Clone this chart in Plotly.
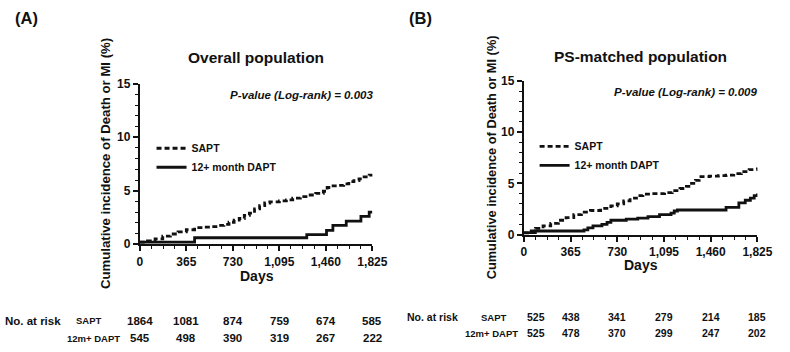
import plotly.graph_objects as go

# ---------------- data ----------------
tick_days = [0, 365, 730, 1095, 1460, 1825]
tick_text = ["0", "365", "730", "1,095", "1,460", "1,825"]

# Panel A: Overall population
a_sapt_days = [0, 60, 120, 180, 240, 300, 365, 430, 500, 560, 620, 660, 700, 740, 780, 820, 860, 900,
               940, 980, 1020, 1095, 1150, 1200, 1260, 1320, 1380, 1440, 1470, 1500, 1560, 1600, 1640,
               1680, 1720, 1760, 1800, 1825]
a_sapt_vals = [0.2, 0.3, 0.5, 0.75, 0.95, 1.15, 1.35, 1.55, 1.6, 1.65, 1.75, 1.85, 2.05, 2.25, 2.4, 2.7,
               2.9, 3.3, 3.6, 3.85, 3.95, 4.05, 4.15, 4.3, 4.45, 4.6, 4.75, 4.95, 5.3, 5.45, 5.5, 5.65,
               5.85, 5.95, 6.1, 6.3, 6.45, 6.55]
a_dapt_days = [0, 430, 1310, 1465, 1515, 1620, 1735, 1800, 1825]
a_dapt_vals = [0.2, 0.6, 0.9, 1.3, 1.75, 2.15, 2.6, 3.0, 3.0]

# Panel B: PS-matched population
b_sapt_days = [0, 30, 90, 150, 210, 270, 330, 390, 450, 520, 600, 680, 730, 780, 830, 880, 930, 1000,
               1060, 1100, 1160, 1220, 1270, 1310, 1340, 1370, 1450, 1520, 1580, 1640, 1700, 1760, 1825]
b_sapt_vals = [0.15, 0.35, 0.6, 0.85, 1.1, 1.4, 1.65, 1.95, 2.2, 2.35, 2.55, 2.8, 3.0, 3.3, 3.55, 3.8,
               3.95, 4.0, 4.0, 4.1, 4.3, 4.5, 4.7, 5.0, 5.3, 5.65, 5.7, 5.75, 5.8, 5.95, 6.15, 6.35, 6.55]
b_dapt_days = [0, 90, 470, 500, 540, 610, 650, 680, 800, 890, 970, 1060, 1150, 1175, 1200, 1580, 1680,
               1730, 1770, 1800, 1825]
b_dapt_vals = [0.2, 0.35, 0.45, 0.65, 0.85, 1.0, 1.2, 1.4, 1.5, 1.6, 1.75, 1.95, 2.1, 2.3, 2.4, 2.65,
               3.1, 3.35, 3.55, 3.8, 4.0]

# numbers at risk
a_risk_sapt = [1864, 1081, 874, 759, 674, 585]
a_risk_dapt = [545, 498, 390, 319, 267, 222]
b_risk_sapt = [525, 438, 341, 279, 214, 185]
b_risk_dapt = [525, 478, 370, 299, 247, 202]

series_names = ["SAPT", "12+ month DAPT"]
risk_labels = ["SAPT", "12m+ DAPT"]

# ---------------- figure ----------------
FONT = "Liberation Sans, Arial, sans-serif"
W, H = 790, 352
INK = "#111111"

fig = go.Figure()

line_w = 2.8
dash = "5px,3px"
fig.add_trace(go.Scatter(x=a_sapt_days, y=a_sapt_vals, mode="lines", line_shape="hv",
                         line=dict(color=INK, width=line_w, dash=dash),
                         name=series_names[0], xaxis="x", yaxis="y", legend="legend"))
fig.add_trace(go.Scatter(x=a_dapt_days, y=a_dapt_vals, mode="lines", line_shape="hv",
                         line=dict(color=INK, width=line_w),
                         name=series_names[1], xaxis="x", yaxis="y", legend="legend"))
fig.add_trace(go.Scatter(x=b_sapt_days, y=b_sapt_vals, mode="lines", line_shape="hv",
                         line=dict(color=INK, width=line_w, dash=dash),
                         name=series_names[0], xaxis="x2", yaxis="y2", legend="legend2"))
fig.add_trace(go.Scatter(x=b_dapt_days, y=b_dapt_vals, mode="lines", line_shape="hv",
                         line=dict(color=INK, width=line_w),
                         name=series_names[1], xaxis="x2", yaxis="y2", legend="legend2"))

def px_x(p):
    return p / W

def px_y(p):
    return 1 - p / H

tickfont = dict(family=FONT, size=12, color=INK, weight="bold")

def xaxis(domain, anchor):
    return dict(domain=domain, anchor=anchor, range=[0, 1825], tickmode="array",
                tickvals=tick_days, ticktext=tick_text, showline=True, linecolor=INK,
                linewidth=2, ticks="outside", ticklen=5, tickwidth=1.8, tickcolor=INK,
                showgrid=False, zeroline=False, tickfont=tickfont,
                minor=dict(tickmode="linear", tick0=0, dtick=91.25, ticks="outside",
                           ticklen=3, tickwidth=1.4, tickcolor=INK, showgrid=False))

def yaxis(domain, anchor):
    return dict(domain=domain, anchor=anchor, range=[0, 15], tickmode="array",
                tickvals=[0, 5, 10, 15], showline=True, linecolor=INK, linewidth=2,
                ticks="outside", ticklen=5, tickwidth=1.8, tickcolor=INK, showgrid=False,
                zeroline=False, tickfont=tickfont,
                minor=dict(tickmode="linear", tick0=0, dtick=1, ticks="outside", ticklen=3,
                           tickwidth=1.4, tickcolor=INK, showgrid=False))

legfont = dict(family=FONT, size=10.5, weight="bold", color=INK)
fig.update_layout(
    width=W, height=H, margin=dict(l=0, r=0, t=0, b=0),
    paper_bgcolor="white", plot_bgcolor="white",
    font=dict(family=FONT, color=INK),
    xaxis=xaxis([px_x(140), px_x(378)], "y"),
    yaxis=yaxis([px_y(247), px_y(80)], "x"),
    xaxis2=xaxis([px_x(533), px_x(772)], "y2"),
    yaxis2=yaxis([px_y(237), px_y(77)], "x2"),
    legend=dict(x=px_x(152), y=px_y(132), xanchor="left", yanchor="top",
                bgcolor="rgba(0,0,0,0)", font=legfont, itemwidth=30, tracegroupgap=0),
    legend2=dict(x=px_x(544), y=px_y(130), xanchor="left", yanchor="top",
                 bgcolor="rgba(0,0,0,0)", font=legfont, itemwidth=30, tracegroupgap=0),
    showlegend=True,
)

ann = []
def text(x, y, s, size, xanchor="center", bold=True, italic=False, angle=0, xref="paper", xshift=0):
    f = dict(family=FONT, size=size, color=INK)
    if bold:
        f["weight"] = "bold"
    if italic:
        f["style"] = "italic"
    ann.append(dict(x=x, y=y, xref=xref, yref="paper", text=s, showarrow=False, font=f,
                    xanchor=xanchor, yanchor="middle", textangle=angle, xshift=xshift))

# panel labels
text(px_x(10), px_y(11), "(A)", 16.5, xanchor="left")
text(px_x(413), px_y(11), "(B)", 16.5, xanchor="left")
# titles
text(px_x(259), px_y(53), "Overall population", 15.5)
text(px_x(652), px_y(52), "PS-matched population", 15.5)
# p-values
text(px_x(381), px_y(92), "P-value (Log-rank) = 0.003", 11.5, xanchor="right", italic=True)
text(px_x(774), px_y(88), "P-value (Log-rank) = 0.009", 11.5, xanchor="right", italic=True)
# axis titles
ytitle = "Cumulative incidence of Death or MI (%)"
text(px_x(105), px_y(163), ytitle, 13.2, angle=-90)
text(px_x(500), px_y(157), ytitle, 12.8, angle=-90)
text(px_x(260), px_y(280), "Days", 14)
text(px_x(653), px_y(269), "Days", 14)

# risk tables
text(px_x(0), px_y(327), "No. at risk", 11.5, xanchor="left")
text(px_x(88), px_y(327), risk_labels[0], 9.5)
text(px_x(93), px_y(345), risk_labels[1], 9.5)
for d, s, t in zip(tick_days, a_risk_sapt, a_risk_dapt):
    text(d, px_y(327), str(s), 11.5, xref="x", bold=True)
    text(d, px_y(345), str(t), 11.5, xref="x", bold=True)

text(px_x(411), px_y(323), "No. at risk", 10.5, xanchor="left")
text(px_x(502), px_y(323), risk_labels[0], 9.5)
text(px_x(500), px_y(340), risk_labels[1], 9.5)
for i, (d, s, t) in enumerate(zip(tick_days, b_risk_sapt, b_risk_dapt)):
    sh = 12 if i == 0 else 0
    text(d, px_y(323), str(s), 10.5, xref="x2", bold=True, xshift=sh)
    text(d, px_y(340), str(t), 10.5, xref="x2", bold=True, xshift=sh)

fig.update_layout(annotations=ann)
fig.write_html("out.html")
